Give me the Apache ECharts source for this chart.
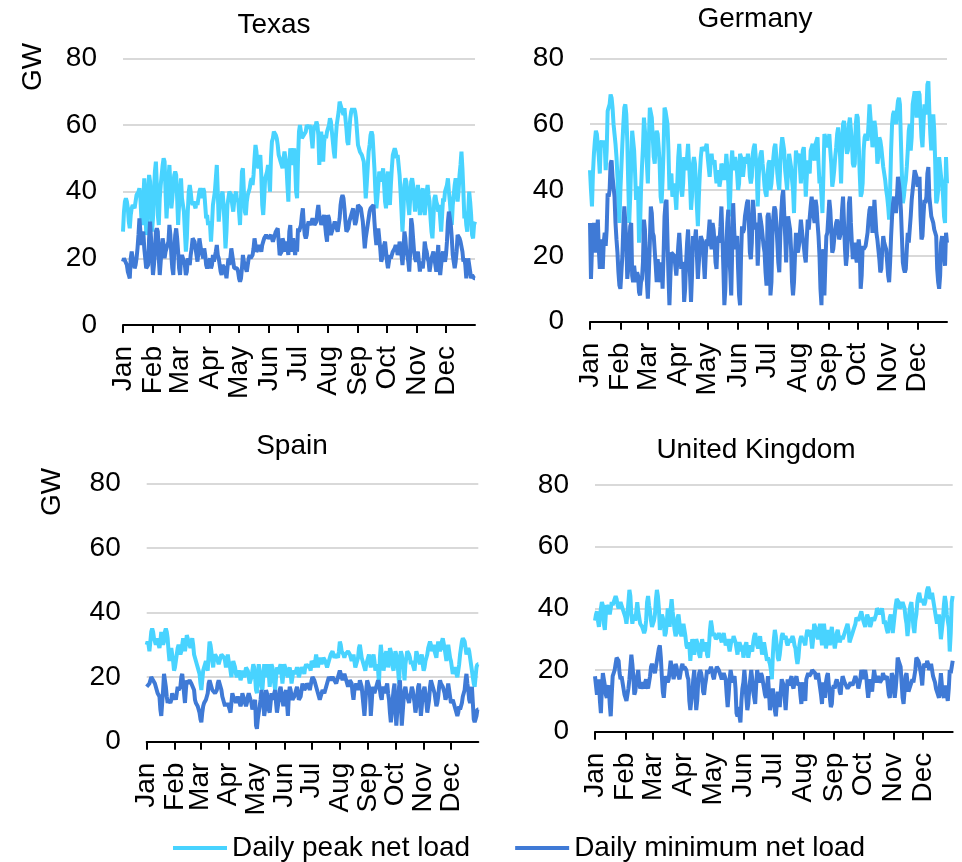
<!DOCTYPE html>
<html><head><meta charset="utf-8">
<script src="https://cdn.jsdelivr.net/npm/echarts@6/dist/echarts.min.js"></script>
<style>html,body{margin:0;padding:0;background:#fff}#c{width:962px;height:862px}</style>
</head><body><div id="c"></div>
<script>
const months = ['Jan','Feb','Mar','Apr','May','Jun','Jul','Aug','Sep','Oct','Nov','Dec'];
const daysInMonth = [31,28,31,30,31,30,31,31,30,31,30,31];
const seriesNames = ['Daily peak net load','Daily minimum net load'];
const panelTitles = ['Texas','Germany','Spain','United Kingdom'];
const yUnit = 'GW';
const yMin = 0, yMax = 80, yStep = 20;

const texasPeak = [
28,34,37,38,37,35,31,29,33,35,36,36,35,37,39,39,40,41,38,32,30,38,44,38,27,30,40,45,43,34,28,
32,40,46,49,42,33,30,38,42,45,48,50,49,40,32,38,44,48,42,35,38,42,45,46,45,38,30,36,
40,44,38,36,34,28,22,26,34,40,42,40,37,36,37,36,35,37,36,38,40,41,40,38,41,40,36,32,33,30,31,
30,25,30,36,38,40,44,48,40,31,35,38,39,40,36,30,23,28,36,38,40,40,39,36,34,37,39,40,37,38,
34,30,38,46,47,40,34,33,37,39,40,41,43,44,42,45,50,54,52,48,47,50,51,45,36,33,38,44,45,46,48,
44,40,50,55,56,58,58,57,56,54,51,50,49,48,47,50,52,50,48,42,37,48,53,50,48,51,53,48,40,38,
50,58,60,58,56,56,57,57,58,60,60,59,60,59,56,53,58,60,59,61,60,57,48,55,58,52,49,55,57,56,58,
58,60,62,61,58,55,52,50,56,60,62,64,67,66,65,64,63,65,62,59,55,54,58,62,64,65,64,65,64,62,58,
54,53,52,52,51,50,49,44,38,42,47,52,54,57,58,57,52,47,40,35,38,42,46,45,43,45,47,42,37,35,
44,46,40,36,42,47,51,52,53,52,50,51,48,45,40,34,28,34,42,44,43,40,36,33,38,43,44,42,38,34,38,
40,42,37,33,36,40,41,35,33,36,40,42,39,37,32,28,26,32,38,39,37,36,34,36,32,28,33,38,37,40,
40,42,44,40,37,33,30,36,39,42,44,41,37,40,45,48,52,47,40,32,34,30,28,34,40,37,33,27,26,30,31];
const texasMin = [
19,20,20,20,18,16,15,14,20,22,20,19,17,18,20,23,27,32,28,24,27,28,23,20,17,17,18,26,31,26,20,
15,18,22,28,29,28,20,15,19,23,26,24,20,22,23,24,25,30,27,21,17,15,22,27,29,26,22,17,
15,20,21,20,19,18,15,16,20,19,18,21,23,26,26,25,23,21,19,22,26,24,22,21,20,23,21,18,17,17,19,
20,17,18,21,19,19,22,24,21,20,18,16,15,18,18,17,16,14,17,20,18,20,23,21,19,17,17,17,17,16,
14,13,14,17,21,19,18,17,16,18,20,21,20,20,21,23,26,24,22,22,23,24,24,22,24,25,26,26,27,27,26,
26,26,27,26,25,26,27,28,28,29,25,21,21,22,26,25,22,24,25,23,21,28,30,22,24,26,26,21,24,22,
29,28,28,30,33,35,30,27,26,27,30,31,31,30,30,32,31,30,30,31,34,36,33,32,30,31,32,33,33,27,25,
33,32,30,27,27,29,30,31,30,29,28,30,32,36,38,39,38,35,31,28,28,29,31,32,33,34,35,32,30,31,33,
36,36,36,35,33,31,27,23,26,28,30,32,34,35,35,35,36,31,27,24,27,29,26,23,19,20,23,24,25,22,
19,17,19,21,20,21,22,22,23,24,23,21,22,25,23,21,18,22,28,26,22,21,19,16,22,32,30,26,22,20,19,
21,22,19,16,19,19,17,20,25,23,22,20,19,16,18,20,21,22,20,18,16,20,24,18,15,18,21,22,20,19,
21,25,31,34,34,30,26,21,19,17,19,22,27,27,26,25,25,22,19,20,18,14,17,20,18,16,14,15,15,14,14];

const germanyPeak = [
46,40,35,45,51,55,58,57,57,50,45,54,55,53,55,54,46,52,64,65,66,69,68,65,60,57,54,50,44,36,30,
40,47,54,60,65,66,63,55,42,30,38,48,58,58,52,45,37,41,40,24,28,40,47,53,62,62,54,48,
42,55,65,65,62,56,50,48,54,58,57,53,48,38,36,43,52,65,64,62,60,52,40,44,45,38,39,42,38,34,42,
50,54,48,40,38,42,50,50,46,50,54,48,42,34,38,48,50,48,42,35,29,38,45,50,53,53,52,52,53,54,
50,47,44,48,51,48,48,49,45,42,45,46,41,43,48,47,46,43,46,51,47,42,32,38,48,52,46,48,50,48,45,
40,42,51,50,48,44,47,50,49,48,51,49,44,42,44,51,53,54,50,46,35,44,49,51,52,48,45,41,39,38,
44,48,49,40,42,46,50,53,54,50,45,42,40,48,53,56,54,52,46,43,40,46,51,49,47,43,40,33,44,52,50,
50,51,47,42,48,52,53,46,38,44,49,46,45,52,53,54,50,49,54,55,56,48,42,44,44,33,45,57,56,56,53,
54,57,52,48,41,43,46,50,53,57,59,56,50,42,52,60,61,58,54,51,52,60,62,62,55,48,47,48,60,63,
62,54,45,38,39,42,52,56,57,56,55,60,66,62,58,53,56,61,59,55,48,50,56,55,53,50,47,45,43,40,38,
35,31,40,52,60,63,64,62,60,64,67,68,66,55,45,36,38,41,43,47,52,58,60,52,56,66,68,70,66,62,
68,70,69,62,56,53,60,66,63,64,72,73,64,57,52,58,63,58,48,36,37,40,50,50,44,42,38,32,30,50,42];
const germanyMin = [
30,13,22,28,30,26,21,27,31,22,16,25,22,16,24,27,23,28,39,38,40,48,49,44,41,38,30,25,21,15,11,
10,10,20,29,35,30,25,13,16,22,29,30,14,12,17,14,12,15,14,9,8,12,13,18,31,28,20,12,
7,15,24,35,33,27,26,26,17,12,19,19,12,15,18,10,20,32,36,37,25,14,5,14,21,21,21,20,17,14,18,
23,27,22,16,18,17,6,10,18,24,28,20,14,6,14,26,24,25,28,20,13,18,23,26,25,24,18,13,20,25,
23,27,31,24,22,30,28,24,18,16,24,26,24,29,35,26,16,5,10,22,30,34,20,15,8,22,36,28,22,25,26,
16,8,5,20,29,27,28,32,34,36,37,30,21,19,24,37,34,28,30,29,17,24,33,31,29,26,23,21,15,11,
32,33,30,8,12,26,32,35,34,30,24,18,15,26,33,38,40,40,26,18,28,32,32,28,22,12,8,12,20,27,22,
21,23,27,31,28,25,23,20,18,25,31,28,28,35,38,38,32,30,37,35,30,26,20,10,5,20,22,8,18,26,27,
32,37,34,28,21,22,25,28,30,31,29,25,26,28,34,38,30,22,17,20,26,36,38,30,24,19,22,24,20,18,
22,25,22,10,14,23,22,22,23,25,27,31,34,35,33,27,30,37,32,27,25,22,19,15,16,22,26,24,23,22,18,
14,12,18,26,32,36,38,35,33,38,44,42,39,34,26,18,16,15,16,22,27,24,24,32,37,40,43,46,45,44,
41,42,44,32,25,26,32,37,36,38,45,47,38,35,32,31,30,28,27,26,16,12,10,14,24,26,26,20,17,27,24];

const spainPeak = [
30,31,30,28,31,34,35,34,32,31,30,31,32,30,29,31,34,32,30,31,34,35,34,32,28,25,28,29,27,25,22,
23,25,27,29,30,29,27,28,30,32,31,28,30,33,32,31,30,29,31,32,30,27,26,25,24,23,22,21,
18,16,19,22,23,24,25,23,22,27,31,30,28,25,23,26,27,27,26,25,24,25,26,27,27,27,26,25,23,25,27,
25,24,22,20,23,25,24,23,21,20,21,22,21,19,20,22,21,20,21,23,23,22,20,18,19,20,22,24,23,20,
16,15,20,24,22,20,17,16,20,24,22,20,22,24,21,17,20,24,23,21,18,16,20,23,22,21,23,24,21,18,21,
24,23,22,21,20,22,23,21,18,20,22,22,21,22,23,22,20,21,22,23,23,22,21,23,24,24,23,24,23,22,
25,25,24,23,25,27,25,23,25,26,25,24,25,26,26,25,24,23,24,25,26,27,27,28,27,26,26,27,27,26,28,
31,30,28,28,27,26,27,27,27,28,28,27,26,25,26,27,25,23,24,24,26,29,30,28,26,25,24,23,22,24,25,
25,27,25,23,25,26,27,25,22,23,24,22,18,26,30,27,25,22,24,27,28,26,23,25,29,28,26,23,22,25,
28,27,25,22,18,25,28,27,25,23,19,24,26,28,28,27,26,24,25,24,23,22,25,28,27,26,25,24,26,27,24,
22,23,25,26,27,29,30,31,30,28,29,30,28,27,26,29,31,30,28,29,31,32,32,29,27,25,28,30,28,26,
25,23,21,22,23,22,21,20,22,24,27,29,31,32,32,31,29,27,28,29,28,26,24,22,20,18,17,20,23,24,24];
const spainMin = [
17,17,17,18,19,20,20,19,19,18,17,16,15,15,14,10,8,12,16,21,19,17,14,12,13,13,12,13,15,14,13,
14,13,15,17,16,16,17,20,21,18,15,12,16,19,18,18,19,19,18,18,18,16,13,12,12,11,10,9,
7,6,9,11,12,12,13,14,15,18,19,18,17,16,16,16,15,15,16,18,19,18,17,16,14,13,12,11,12,11,12,
12,10,9,12,15,14,14,13,12,13,14,13,12,11,12,15,14,13,12,11,12,14,15,14,13,12,10,10,12,13,
5,4,7,9,11,13,16,14,12,8,10,16,15,13,10,9,12,15,14,13,15,16,12,9,11,13,16,17,15,13,11,
13,15,16,12,8,14,17,16,14,13,13,14,15,16,17,15,13,13,14,16,18,17,16,16,17,18,18,17,16,16,
19,20,20,19,18,17,16,15,14,13,14,15,16,16,15,16,17,18,19,20,20,19,19,20,20,19,19,18,18,20,21,
22,21,20,19,20,21,20,19,18,17,18,19,19,18,15,13,16,17,18,17,16,17,19,18,17,14,11,8,12,16,19,
19,17,15,8,12,17,16,15,16,17,18,19,18,16,14,13,16,17,16,15,17,18,15,13,9,6,9,13,16,18,
10,5,9,13,17,19,12,5,9,13,16,17,15,14,13,12,14,15,17,16,14,12,9,11,14,17,18,12,8,11,15,
16,17,15,12,9,11,13,17,19,18,18,16,15,13,11,12,14,17,19,18,18,17,17,15,13,14,16,18,16,14,
12,12,13,12,11,10,9,8,9,11,10,10,12,14,15,16,19,21,18,16,13,12,15,17,12,7,6,7,8,10,10];

const ukPeak = [
36,38,39,36,34,34,40,42,41,35,33,38,41,41,40,38,40,42,41,41,43,44,43,41,40,41,42,41,40,40,38,
37,35,38,42,46,44,38,35,37,38,36,39,42,39,37,35,35,34,33,32,33,36,42,44,41,39,36,34,
34,36,38,43,46,44,40,33,36,38,37,35,31,32,35,40,38,34,40,43,39,36,33,31,32,37,38,35,32,31,33,
35,33,31,28,27,29,28,23,27,30,28,25,27,30,29,28,25,24,27,30,28,26,28,29,25,24,28,33,36,34,
31,32,31,30,30,31,32,31,30,29,31,32,30,28,29,30,28,26,28,30,29,31,30,29,27,25,28,29,28,26,28,
24,26,28,29,26,24,26,28,27,26,29,31,32,30,28,27,29,31,28,25,27,29,27,25,23,24,23,22,20,17,
25,30,33,31,28,24,23,25,28,31,32,30,30,31,29,28,29,30,29,30,31,30,28,27,24,22,24,28,30,31,30,
30,29,28,31,33,32,31,33,30,27,30,35,34,33,31,30,33,35,31,28,31,35,32,27,29,33,31,28,32,34,31,
29,27,29,32,33,31,29,30,31,30,30,32,33,34,35,33,29,30,31,32,33,34,35,37,37,36,36,38,39,39,
36,35,34,36,38,37,36,34,35,37,37,36,37,38,40,40,39,38,39,40,38,35,36,36,33,32,34,37,38,36,32,
35,38,41,43,43,42,40,40,41,42,41,40,37,35,31,34,39,41,42,38,34,32,36,38,42,44,45,43,42,43,
42,41,42,44,46,47,46,43,44,45,43,41,39,37,35,37,38,34,30,33,36,41,44,42,38,36,34,26,32,42,44];
const ukMin = [
18,15,12,15,17,10,6,14,19,17,15,12,11,14,15,9,5,12,18,19,20,22,24,24,23,19,17,18,16,14,12,
12,10,12,14,17,21,25,22,18,12,13,16,18,20,16,14,15,16,15,14,16,17,15,14,16,18,21,22,
21,20,19,21,23,25,27,28,24,18,13,11,15,18,17,16,17,20,23,21,19,17,19,22,21,19,18,17,19,21,22,
20,21,21,20,18,17,10,7,10,13,17,20,13,7,10,16,19,20,19,17,13,12,15,17,20,19,19,20,21,20,
18,17,19,20,21,21,20,19,18,17,18,19,18,17,12,8,12,17,20,18,16,17,18,14,6,5,8,5,3,10,14,
16,20,16,11,7,9,14,17,20,17,13,11,9,15,20,18,16,17,19,18,16,14,12,11,14,18,13,7,9,12,
14,11,7,5,9,13,10,8,13,17,16,15,11,7,12,17,15,15,17,18,15,14,16,17,18,16,15,16,12,9,14,
16,12,10,17,18,19,18,18,19,20,20,20,19,17,18,19,19,19,12,9,16,13,11,16,18,19,15,11,8,9,14,
15,14,16,17,15,16,13,12,16,18,17,16,16,16,14,14,15,16,16,15,15,17,18,17,16,14,14,17,20,19,
17,19,20,18,14,11,14,17,15,13,17,20,18,16,17,18,17,16,16,17,19,18,17,17,18,15,12,11,15,19,18,
14,11,14,18,24,23,22,21,16,11,9,13,18,19,16,13,13,15,16,17,16,16,20,24,24,23,22,22,18,15,
20,22,22,21,23,22,20,21,22,20,18,17,16,14,13,12,11,15,19,15,12,11,13,15,12,10,14,20,19,21,23];

const panelData = [[texasPeak, texasMin],[germanyPeak, germanyMin],[spainPeak, spainMin],[ukPeak, ukMin]];

const FONT = '"Liberation Sans", Arial, Helvetica, sans-serif';
const COLORS = ['#48D3FF', '#3F7AD6'];

const days = [];
const monthStartIdx = {};
months.forEach((m, i) => {
  monthStartIdx[days.length] = true;
  for (let d = 1; d <= daysInMonth[i]; d++) days.push(m + ' ' + d);
});
const lastIdx = days.length - 1;
const isMonthStart = (idx) => monthStartIdx[idx] === true;
const isLabelIdx = (idx) => isMonthStart(idx) || idx === lastIdx;

const grids = [
  {left: 123, top: 58.3, width: 352, height: 266.7},
  {left: 590, top: 58.3, width: 357, height: 263.4},
  {left: 146.7, top: 483.3, width: 331.6, height: 258.4},
  {left: 595, top: 485, width: 357.7, height: 246.7}
];
const titlePos = [[274, 25], [755, 19], [292, 446], [756, 450]];
const unitPos = [[33, 67], null, [52, 492], null];

const xAxes = [], yAxes = [], series = [], graphics = [];
grids.forEach((g, k) => {
  xAxes.push({
    gridIndex: k, type: 'category', data: days, boundaryGap: false,
    axisLine: {show: true, lineStyle: {color: '#000', width: 2}},
    axisTick: {show: true, interval: isMonthStart, length: 8, lineStyle: {color: '#000', width: 2}},
    axisLabel: {interval: isLabelIdx, formatter: (v, i) => (i === lastIdx ? '' : v.split(' ')[0]),
      rotate: 90, margin: 21, hideOverlap: false, showMinLabel: true, showMaxLabel: false,
      fontSize: 28, lineHeight: 28, color: '#000', fontFamily: FONT},
    splitLine: {show: false}
  });
  yAxes.push({
    gridIndex: k, type: 'value', min: yMin, max: yMax, interval: yStep,
    axisLine: {show: false}, axisTick: {show: false},
    axisLabel: {fontSize: 28, color: '#000', fontFamily: FONT, margin: 26},
    splitLine: {show: true, lineStyle: {color: '#D9D9D9', width: 2}}
  });
  panelData[k].forEach((arr, s) => {
    series.push({
      name: seriesNames[s], type: 'line', xAxisIndex: k, yAxisIndex: k, data: arr,
      showSymbol: false, symbol: 'none', smooth: false,
      lineStyle: {color: COLORS[s], width: 4}, itemStyle: {color: COLORS[s]},
      z: 2 + s
    });
  });
  graphics.push({type: 'text', x: titlePos[k][0], y: titlePos[k][1],
    style: {text: panelTitles[k], fontSize: 28, fontFamily: FONT, fill: '#000', align: 'center', verticalAlign: 'middle'}});
  if (unitPos[k]) graphics.push({type: 'text', x: unitPos[k][0], y: unitPos[k][1], rotation: Math.PI / 2,
    style: {text: yUnit, fontSize: 28, fontFamily: FONT, fill: '#000', align: 'center', verticalAlign: 'middle'}});
});

const chart = echarts.init(document.getElementById('c'), null, {renderer: 'canvas'});
chart.setOption({
  animation: false,
  backgroundColor: '#fff',
  grid: grids.map(g => Object.assign({containLabel: false}, g)),
  xAxis: xAxes, yAxis: yAxes, series: series,
  legend: {
    data: seriesNames, left: 168, top: 829, icon: 'rect', itemWidth: 54, itemHeight: 4, itemGap: 45,
    textStyle: {fontSize: 28, color: '#000', fontFamily: FONT}, selectedMode: false
  },
  graphic: graphics
});
</script></body></html>
